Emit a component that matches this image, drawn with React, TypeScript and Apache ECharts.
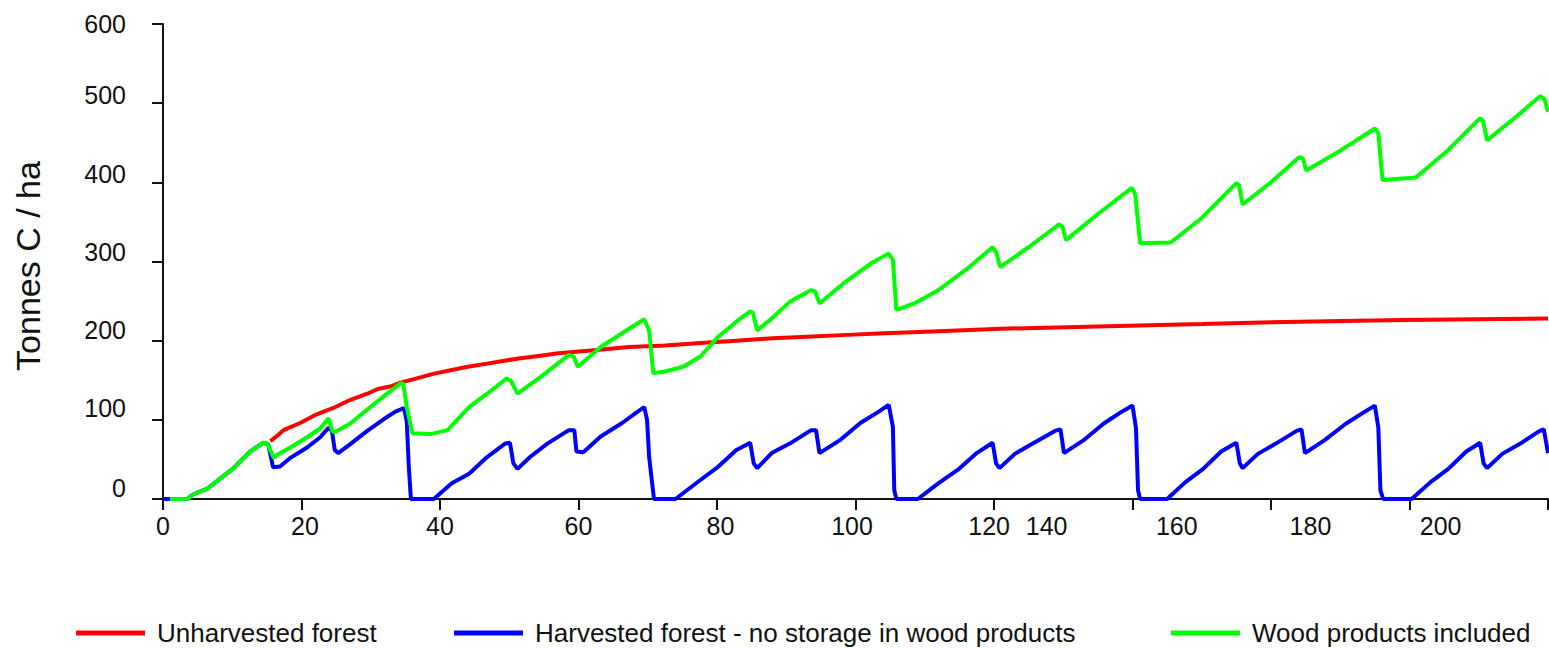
import React, { useEffect, useRef } from "react";
import * as echarts from "echarts";

// ---- Data (x = years, y = tonnes C / ha) ----
const seriesNames = [
  "Unharvested forest",
  "Harvested forest - no storage in wood products",
  "Wood products included",
];

const unharvested: [number, number][] = [
  [15.5, 73], [16.5, 80], [17.4, 87], [19.8, 96], [22.2, 107], [24.6, 115], [27, 125],
  [29.5, 133], [31, 139], [32.8, 142], [34.3, 147], [36.5, 152], [39, 158], [41.7, 163],
  [44, 167], [46.8, 171], [49.5, 175], [51.9, 178], [54.5, 181], [57.1, 184], [62.2, 188],
  [67.3, 192], [72.5, 194], [77.6, 197], [82.8, 200], [88, 203], [93, 205], [98, 207],
  [103.3, 209], [112, 212], [121, 215], [135, 218], [150, 221], [164, 224], [179, 226],
  [190, 227], [200, 228],
];

const harvested: [number, number][] = [
  [0, 0], [1, 0], [3.5, 0], [4.4, 6], [6.4, 13], [8.3, 26], [10.2, 39], [12.6, 60], [14.5, 71],
  [15.2, 69], [15.9, 40], [16.9, 41], [18.4, 52], [20.8, 65], [22.7, 78], [23.9, 90], [24.4, 86],
  [24.8, 62], [25.3, 58], [27, 69], [29.5, 86], [31.9, 101], [33.5, 110], [34.8, 115], [35.2, 98],
  [35.5, 40], [35.8, 0],
  [39.1, 0], [41.7, 20], [44.2, 32], [46.8, 53], [49.4, 70], [50.1, 71], [50.6, 45], [51.2, 38],
  [53, 53], [55.5, 70], [58.6, 87], [59.4, 87], [59.7, 60], [60.7, 59], [63.2, 79], [66.3, 96],
  [68.5, 110], [69.5, 116], [69.9, 100], [70.2, 53], [70.9, 0],
  [74, 0], [77.6, 24], [80.2, 41], [82.8, 62], [84.8, 71], [85.3, 45], [85.8, 39], [87.9, 58],
  [90.5, 70], [93.6, 87], [94.3, 87], [94.8, 58], [97.7, 74], [100.7, 96], [103.3, 110],
  [104.8, 119], [105.4, 91], [105.6, 11], [105.9, 0],
  [109, 0], [112, 20], [114.8, 37], [117.5, 58], [119.8, 71], [120.3, 45], [120.8, 39], [123, 57],
  [125.6, 70], [128.8, 86], [129.6, 88], [130.1, 58], [132.9, 74], [135.8, 95], [138.4, 110],
  [140, 118], [140.5, 90], [140.8, 11], [141.1, 0],
  [145, 0], [147.6, 21], [150.2, 38], [152.8, 60], [155, 71], [155.5, 45], [155.9, 39], [158.1, 57],
  [160.7, 70], [163.7, 86], [164.4, 88], [164.9, 58], [167.7, 74], [170.8, 95], [173.5, 110],
  [175, 118], [175.5, 90], [175.8, 11], [176.2, 0],
  [180.3, 0], [183, 21], [185.6, 38], [188.2, 60], [190.2, 71], [190.7, 45], [191.2, 39],
  [193.4, 57], [196, 70], [198.8, 86], [199.4, 88], [200, 58],
];

const woodProducts: [number, number][] = [
  [1, 0], [3.5, 0], [4.4, 6], [6.4, 13], [8.3, 26], [10.2, 39], [12.6, 60], [14.5, 71], [15, 71],
  [16, 52], [16.5, 56], [18.4, 65], [20.8, 78], [22.7, 89], [23.9, 102], [24.4, 87], [24.7, 84],
  [27, 95], [29.5, 113], [31.9, 130], [34.3, 146], [34.7, 146], [35.2, 116], [36, 83], [38.6, 82],
  [41.1, 87], [44.2, 116], [46.8, 133], [49.6, 152], [50.2, 150], [51.2, 133], [54.5, 154],
  [58.6, 182], [59.3, 180], [59.9, 167], [63.2, 192], [67.3, 215], [69.5, 227], [70.2, 213],
  [70.8, 159], [72.5, 161], [75.1, 167], [77.6, 180], [80.2, 205], [82.8, 224], [84.8, 237],
  [85.2, 235], [85.8, 213], [87.9, 228], [90.5, 249], [93.6, 264], [94.2, 262], [94.8, 247],
  [98.2, 272], [102.3, 298], [104.8, 310], [105.4, 302], [105.9, 239], [108.5, 247], [112, 264],
  [116, 290], [119.8, 318], [120.3, 312], [120.9, 293], [125, 318], [129.4, 347], [129.9, 344],
  [130.4, 327], [135, 360], [139.9, 393], [140.4, 385], [141.1, 323], [145.5, 324], [150, 355],
  [155, 399], [155.4, 396], [155.9, 372], [160, 400], [164.1, 432], [164.6, 430], [165.1, 415],
  [170, 440], [175, 468], [175.5, 462], [176.1, 403], [180.9, 406], [185.5, 440], [190.2, 481],
  [190.6, 478], [191.2, 453], [195, 480], [198.9, 509], [199.5, 505], [200, 489],
];

// Tick labels as printed in the reference, and where they sit along each axis
const xTickLabelText = ["0", "20", "40", "60", "80", "100", "120", "140", "160", "180", "200"];
const xTickLabelAt = [0, 20.5, 40, 60, 80.5, 99.5, 119.3, 127.6, 146.4, 165.7, 184.5];
const yTickLabelText = ["0", "100", "200", "300", "400", "500", "600"];
const yTickLabelAt = [13.5, 115, 213, 312, 411, 510, 600];

const seriesColors = ["#ff0000", "#0000ff", "#00ff00"];
const FONT = "'Liberation Sans', Arial, Helvetica, sans-serif";

function labelFor(texts: string[], positions: number[], v: number): string {
  let best = 0;
  let bd = Infinity;
  positions.forEach((p, i) => {
    const d = Math.abs(p - v);
    if (d < bd) {
      bd = d;
      best = i;
    }
  });
  return bd < 0.5 ? texts[best] : "";
}

export default function App() {
  const ref = useRef<HTMLDivElement>(null);

  useEffect(() => {
    if (!ref.current) return;
    const chart = echarts.init(ref.current, null, { renderer: "svg" });
    const axisLine = { show: true, lineStyle: { color: "#111", width: 2 } };
    const axisTick = { show: true, inside: false, length: 11, lineStyle: { color: "#111", width: 2 } };
    const legendCommon = {
      orient: "horizontal" as const,
      top: 615,
      icon: "rect",
      itemWidth: 69,
      itemHeight: 5,
      selectedMode: false,
      textStyle: { fontSize: 26, color: "#111", fontFamily: FONT, padding: [0, 0, 0, 7] },
    };
    const datasets = [unharvested, harvested, woodProducts];
    chart.setOption({
      animation: false,
      backgroundColor: "#ffffff",
      grid: { left: 163, right: 1, top: 24, bottom: 149, containLabel: false },
      xAxis: {
        type: "value",
        min: 0,
        max: 200,
        interval: 20,
        axisLine,
        axisTick,
        splitLine: { show: false },
        axisLabel: {
          customValues: xTickLabelAt,
          formatter: (v: number) => labelFor(xTickLabelText, xTickLabelAt, v),
          fontSize: 25,
          color: "#111",
          fontFamily: FONT,
          margin: 14,
        },
      },
      yAxis: {
        type: "value",
        min: 0,
        max: 600,
        interval: 100,
        axisLine,
        axisTick,
        splitLine: { show: false },
        axisLabel: {
          customValues: yTickLabelAt,
          formatter: (v: number) => labelFor(yTickLabelText, yTickLabelAt, v),
          fontSize: 25,
          color: "#111",
          fontFamily: FONT,
          margin: 37,
        },
      },
      graphic: [
        {
          type: "text",
          x: 28,
          y: 266,
          rotation: Math.PI / 2,
          style: {
            text: "Tonnes C / ha",
            fontSize: 34,
            fontFamily: FONT,
            fill: "#111",
            align: "center",
            verticalAlign: "middle",
          },
        },
      ],
      legend: [
        { ...legendCommon, left: 71, data: [seriesNames[0]] },
        { ...legendCommon, left: 449, data: [seriesNames[1]] },
        { ...legendCommon, left: 1166, data: [seriesNames[2]] },
      ],
      series: seriesNames.map((name, i) => ({
        name,
        type: "line",
        data: datasets[i],
        showSymbol: false,
        symbol: "none",
        color: seriesColors[i],
        itemStyle: { color: seriesColors[i] },
        lineStyle: { color: seriesColors[i], width: 4 },
        z: i === 2 ? 4 : i === 0 ? 3 : 2,
      })),
    });
    return () => chart.dispose();
  }, []);

  return (
    <div
      ref={ref}
      style={{ position: "fixed", left: 0, top: 0, width: 1549, height: 648, background: "#fff" }}
    />
  );
}
